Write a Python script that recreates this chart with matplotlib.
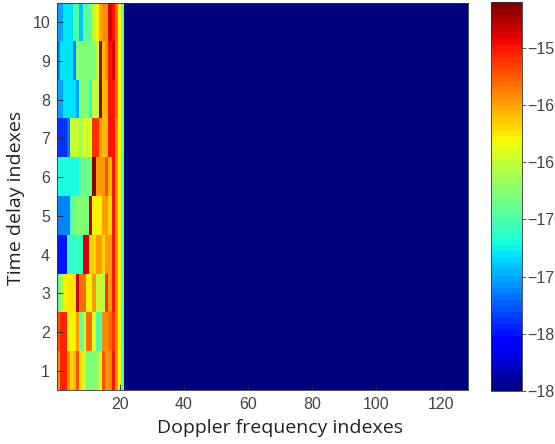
"""Delay-Doppler power map, rebuilt as an imagesc-style heatmap with jet colours."""
import matplotlib
matplotlib.use("Agg")
import matplotlib.pyplot as plt
import numpy as np

W, H = 555, 444

# dB values for the first 21 Doppler bins of each delay row, the rest sit at the floor
row_1 = [-159, -155.5, -155.5, -159, -162, -161, -157, -162.5, -165, -168, -168, -168, -167, -163, -157, -160, -159, -155, -160, -163, -170]
row_2 = [-157, -155.5, -155.5, -163, -163, -163, -160, -169, -165, -158, -158, -164, -170, -170, -159.5, -159.5, -158, -156, -159, -163, -170]
row_3 = [-170, -166, -163, -162.5, -162.5, -162.5, -153.5, -158, -158, -163, -163, -160, -165, -165, -165, -156, -160, -155, -159, -163, -170]
row_4 = [-180, -180, -180, -171, -171, -171, -171, -171, -154, -154, -162, -162, -160, -160, -162, -160, -160, -155, -159, -163, -170]
row_5 = [-176, -176, -176, -176, -170, -168, -168, -168, -168, -168, -153, -163, -163, -163, -160, -160, -162, -155, -159, -163, -170]
row_6 = [-172, -172, -172, -172, -172, -172, -172, -169, -169, -169, -169, -152, -160, -160, -160, -157, -161, -155, -159, -163, -170]
row_7 = [-179, -179, -179, -177, -165, -165, -165, -166, -163, -165, -164, -156, -156, -160, -161, -161, -155, -155, -159, -163, -169]
row_8 = [-175, -175, -173, -173, -173, -173, -175, -168, -168, -168, -172, -165, -165, -152, -161, -161, -155, -155, -158, -163, -169]
row_9 = [-176, -173, -173, -173, -173, -176, -167.5, -167.5, -167.5, -167.5, -167.5, -167.5, -165, -153, -161, -159, -155, -154, -158, -163, -169]
row_10 = [-175, -175, -173, -173, -173, -170, -170, -174, -169.5, -169.5, -169.5, -165, -163, -160.5, -159, -159, -154, -155, -158, -163, -169]

floor_db = -185
top_db = -151
n_doppler = 128
x_ticks = [20, 40, 60, 80, 100, 120]
y_ticks = list(range(1, 11))
cbar_ticks = [-155, -160, -165, -170, -175, -180, -185]

rows = [row_1, row_2, row_3, row_4, row_5, row_6, row_7, row_8, row_9, row_10]
grid = np.full((len(rows), n_doppler), float(floor_db))
for i, row in enumerate(rows):
    grid[i, :len(row)] = row

plt.rcParams["font.family"] = ["Liberation Sans", "DejaVu Sans"]
grey = "#444444"

fig = plt.figure(figsize=(W / 100, H / 100), dpi=100)
ax = fig.add_axes([57 / W, 1 - 390 / H, 411 / W, 387 / H])
im = ax.imshow(grid, cmap=plt.get_cmap("jet", 64), vmin=floor_db, vmax=top_db,
               aspect="auto", origin="lower", interpolation="nearest",
               extent=[0.5, n_doppler + 0.5, 0.5, len(rows) + 0.5])
ax.set_xticks(x_ticks)
ax.set_yticks(y_ticks)
ax.tick_params(direction="in", length=4, width=0.6, color="#222222",
               labelsize=11.5, labelcolor=grey, pad=5)
for side in ax.spines.values():
    side.set_linewidth(0.6)
    side.set_color("#333333")

fig.text(280 / W, 1 - 428 / H, "Doppler frequency indexes", ha="center", va="center",
         fontsize=14, color="#222222", family=["Open Sans", "DejaVu Sans"])
fig.text(16 / W, 1 - 198 / H, "Time delay indexes", ha="center", va="center",
         rotation=90, fontsize=14, color="#222222", family=["Open Sans", "DejaVu Sans"])

cax = fig.add_axes([491 / W, 1 - 391 / H, 31 / W, 389 / H])
cbar = fig.colorbar(im, cax=cax, ticks=cbar_ticks, drawedges=False)
cbar.ax.tick_params(direction="out", length=3, width=0.6, color="#444444",
                    labelsize=11.5, labelcolor=grey, pad=1)
cbar.outline.set_linewidth(0.6)
cbar.outline.set_edgecolor("#333333")

fig.savefig("out.png", dpi=100)
